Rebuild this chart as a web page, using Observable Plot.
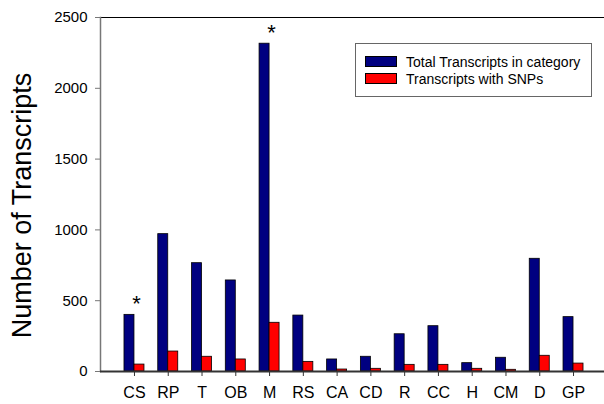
<!DOCTYPE html>
<html>
<head>
<meta charset="utf-8">
<script src="https://cdn.jsdelivr.net/npm/d3@7"></script>
<script src="https://cdn.jsdelivr.net/npm/@observablehq/plot@0.6"></script>
<style>
  body { margin: 0; background: #fff; font-family: "Liberation Sans", Arial, sans-serif; }
  #wrap { position: relative; width: 604px; height: 404px; overflow: hidden; }
  #legend { position: absolute; left: 355px; top: 43px; width: 235px; height: 52px; border: 1px solid #666; background: #fff; }
  .row { position: absolute; left: 9px; height: 17px; display: flex; align-items: center; font-size: 14px; color: #000; white-space: nowrap; }
  .sw { width: 30px; height: 9px; border: 1px solid #000; margin-right: 9px; }
</style>
</head>
<body>
<div id="wrap"></div>
<script>
const categories = ["CS","RP","T","OB","M","RS","CA","CD","R","CC","H","CM","D","GP"];
const totalTranscripts = [400, 970, 765, 643, 2315, 395, 85, 104, 263, 320, 59, 97, 796, 384];
const snpTranscripts = [49, 141, 104, 85, 344, 68, 14, 19, 47, 47, 19, 12, 111, 56];
const starred = ["CS", "M"];
const yTicks = [0, 500, 1000, 1500, 2000, 2500];
const seriesNames = ["Total Transcripts in category", "Transcripts with SNPs"];
const seriesColors = ["#000080", "#ff0000"];

const data = categories.map((c, i) => ({cat: c, total: totalTranscripts[i], snps: snpTranscripts[i]}));
const stars = data.filter(d => starred.includes(d.cat));

const chart = Plot.plot({
  width: 604,
  height: 404,
  marginLeft: 100,
  marginRight: -3,
  marginTop: 17,
  marginBottom: 33,
  style: {fontFamily: '"Liberation Sans", Arial, sans-serif', background: "#fff", overflow: "visible"},
  x: {domain: categories, paddingInner: 0.408, paddingOuter: 0.71, round: false, axis: null},
  y: {domain: [0, 2500], axis: null},
  marks: [
    Plot.axisY({ticks: yTicks, tickSize: 5, tickPadding: 8, fontSize: 15, stroke: "#777", color: "#000", label: null, tickFormat: d => String(d)}),
    Plot.axisX({tickSize: 5, tickPadding: 10, fontSize: 16, stroke: "#333", color: "#000", label: null}),
    Plot.barY(data, {x: "cat", y: "total", fill: seriesColors[0], stroke: "#000", strokeWidth: 0.8, insetRight: 10}),
    Plot.barY(data, {x: "cat", y: "snps", fill: seriesColors[1], stroke: "#000", strokeWidth: 0.8, insetLeft: 10}),
    Plot.text(stars, {x: "cat", y: "total", text: () => "*", fontSize: 22, dx: 2, dy: -4, lineAnchor: "bottom", fill: "#000"}),
    Plot.ruleY([2500], {stroke: "#000", strokeWidth: 1}),
    Plot.frame({anchor: "left", stroke: "#777", strokeWidth: 1.5}),
    Plot.ruleY([0], {stroke: "#333", strokeWidth: 2}),
    Plot.text(["Number of Transcripts"], {frameAnchor: "left", text: d => d, rotate: -90, dx: -78, dy: 11, fontSize: 27, textAnchor: "middle", lineAnchor: "middle", fill: "#000"})
  ]
});

const wrap = document.getElementById("wrap");
wrap.appendChild(chart);

const legend = document.createElement("div");
legend.id = "legend";
seriesNames.forEach((name, i) => {
  const row = document.createElement("div");
  row.className = "row";
  row.style.top = (9 + i * 17) + "px";
  const sw = document.createElement("div");
  sw.className = "sw";
  sw.style.background = seriesColors[i];
  const t = document.createElement("span");
  t.textContent = name;
  row.appendChild(sw);
  row.appendChild(t);
  legend.appendChild(row);
});
wrap.appendChild(legend);
</script>
</body>
</html>
